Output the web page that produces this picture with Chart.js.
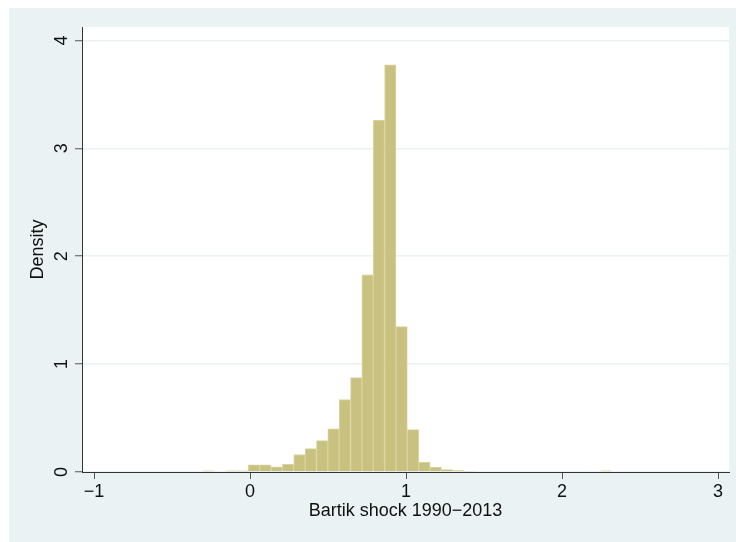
<!DOCTYPE html>
<html>
<head>
<meta charset="utf-8">
<script src="https://cdn.jsdelivr.net/npm/chart.js@4"></script>
<style>
  body { margin: 0; background: #fff; }
  canvas { display: block; }
</style>
</head>
<body>
<canvas id="hist" width="736" height="542"></canvas>
<script>
// bin midpoints (Bartik shock 1990-2013), 36 bins
var binCenters = [
  -0.2656, -0.1928, -0.1200, -0.0472, 0.0256, 0.0984, 0.1712, 0.2440, 0.3168,
  0.3896, 0.4624, 0.5352, 0.6080, 0.6808, 0.7536, 0.8264, 0.8992, 0.9720,
  1.0448, 1.1176, 1.1904, 1.2632, 1.3360, 1.4088, 1.4816, 1.5544, 1.6272,
  1.7000, 1.7728, 1.8456, 1.9184, 1.9912, 2.0640, 2.1368, 2.2096, 2.2824
];
var density = [
  0.010, 0, 0.010, 0.010, 0.067, 0.067, 0.047, 0.070, 0.162,
  0.217, 0.291, 0.401, 0.672, 0.874, 1.827, 3.262, 3.773, 1.347,
  0.393, 0.092, 0.045, 0.022, 0.013, 0.007, 0, 0, 0,
  0, 0, 0, 0, 0, 0, 0, 0, 0.010
];
var xTicks = [-1, 0, 1, 2, 3];
var yTicks = [0, 1, 2, 3, 4];
var xTitle = 'Bartik shock 1990\u22122013';
var yTitle = 'Density';

var FONT = '"Liberation Sans", Arial, sans-serif';
var BG = '#eaf2f3';

var points = [];
for (let i = 0; i < binCenters.length; i++) {
  points.push({ x: binCenters[i], y: density[i] });
}

function fmt(v) {
  return v < 0 ? '\u2212' + Math.abs(v) : String(v);
}

var stataLook = {
  id: 'stataLook',
  beforeDraw: function (chart) {
    var ctx = chart.ctx, a = chart.chartArea;
    ctx.save();
    ctx.fillStyle = '#fff';
    ctx.fillRect(0, 0, chart.width, chart.height);
    ctx.fillStyle = BG;
    ctx.fillRect(9, 8, chart.width - 9, chart.height - 8);
    ctx.fillStyle = '#fff';
    ctx.fillRect(a.left, a.top, a.right - a.left, a.bottom - a.top);
    ctx.restore();
  },
  afterDraw: function (chart) {
    var ctx = chart.ctx, a = chart.chartArea;
    var ys = chart.scales.y;
    ctx.save();
    ctx.fillStyle = '#111';
    ctx.font = '18px ' + FONT;
    ctx.textAlign = 'center';
    ctx.textBaseline = 'middle';
    // rotated y tick labels
    yTicks.forEach(function (v) {
      ctx.save();
      ctx.translate(62, ys.getPixelForValue(v));
      ctx.rotate(-Math.PI / 2);
      ctx.fillText(String(v), 0, 0);
      ctx.restore();
    });
    // y title
    ctx.save();
    ctx.translate(38, (a.top + a.bottom) / 2);
    ctx.rotate(-Math.PI / 2);
    ctx.fillText(yTitle, 0, 0);
    ctx.restore();
    // x title
    ctx.fillText(xTitle, (a.left + a.right) / 2, 511);
    ctx.restore();
  }
};

var ctx = document.getElementById('hist').getContext('2d');
var myChart = new Chart(ctx, {
  type: 'bar',
  data: {
    datasets: [{
      data: points,
      backgroundColor: '#c9c17f',
      borderColor: '#dad4a2',
      borderWidth: 1,
      borderSkipped: 'start',
      barPercentage: 1,
      categoryPercentage: 1
    }]
  },
  options: {
    responsive: false,
    animation: false,
    devicePixelRatio: 1,
    layout: { padding: { left: 0, top: 27, right: 7, bottom: 0 } },
    plugins: {
      legend: { display: false },
      tooltip: { enabled: false }
    },
    scales: {
      x: {
        type: 'linear',
        min: -1.077,
        max: 3.0705,
        offset: false,
        afterBuildTicks: function (scale) {
          scale.ticks = xTicks.map(function (v) { return { value: v }; });
        },
        afterFit: function (scale) { scale.height = 70; },
        grid: {
          offset: false,
          drawOnChartArea: false,
          tickLength: 7,
          tickColor: '#555',
          tickWidth: 1
        },
        border: { color: '#333', width: 1 },
        ticks: {
          padding: 2,
          color: '#111',
          maxRotation: 0,
          font: { family: FONT, size: 18 },
          callback: function (v) { return fmt(v); }
        }
      },
      y: {
        min: 0,
        max: 4.124,
        afterBuildTicks: function (scale) {
          scale.ticks = yTicks.map(function (v) { return { value: v }; });
        },
        afterFit: function (scale) { scale.width = 82; },
        grid: {
          color: BG,
          lineWidth: 1.5,
          tickLength: 7,
          tickColor: '#555',
          tickWidth: 1
        },
        border: { color: '#333', width: 1 },
        ticks: { display: false }
      }
    }
  },
  plugins: [stataLook]
});
</script>
</body>
</html>
